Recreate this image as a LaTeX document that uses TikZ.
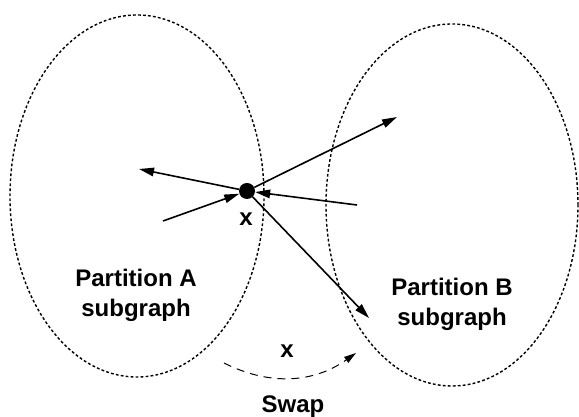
\documentclass[tikz,border=0pt]{standalone}
\usepackage{fontspec}
\setmainfont{Liberation Sans}
\usetikzlibrary{arrows.meta,positioning,calc}
\definecolor{Ink}{HTML}{000000}
\tikzset{
  part/.style={draw=Ink, line width=1.4pt, dash pattern=on 2.8pt off 2.2pt},
  lbl/.style={font=\fontsize{24}{30}\selectfont\bfseries, text=Ink, align=center, inner sep=0pt},
  vtx/.style={circle, fill=Ink, inner sep=0pt, minimum size=16pt},
  arr/.style={-{Triangle[length=15pt,width=8.5pt]}, line width=1.6pt, draw=Ink},
  swaparr/.style={-{Triangle[length=12pt,width=7pt]}, line width=1pt, draw=Ink, dash pattern=on 8pt off 6pt}
}
\begin{document}
\begin{tikzpicture}[x=1pt,y=1pt]
\useasboundingbox (0,0) rectangle (579,417);
% the two partitions
\draw[part] (137,221) ellipse [x radius=127pt, y radius=181pt];
\draw[part] (452,212) ellipse [x radius=126pt, y radius=181pt];
\node[lbl] (labA) at (136,122) {Partition A\\subgraph};
\node[lbl] (labB) at (452,113) {Partition B\\subgraph};
% vertex x and its edges
\node[vtx] (x) at (247,226) {};
\node[lbl] (xname) at (246,198) {x};
\coordinate (e1) at (139,248);
\coordinate (e2) at (163,196);
\coordinate (e3) at (397,300);
\coordinate (e4) at (357,212);
\coordinate (e5) at (369,99);
\draw[arr] (x) -- (e1);
\draw[arr] (e2) -- (x);
\draw[arr] (x) -- (e3);
\draw[arr] (e4) -- (x);
\draw[arr] (x) -- (e5);
% the swap
\coordinate (s1) at (224,54);
\coordinate (s2) at (356,64);
\draw[swaparr] (s1) to[bend right=31] (s2);
\node[lbl] (xmove) at (287,66) {x};
\node[lbl] (swap) at (293,10) {Swap};
\end{tikzpicture}
\end{document}
